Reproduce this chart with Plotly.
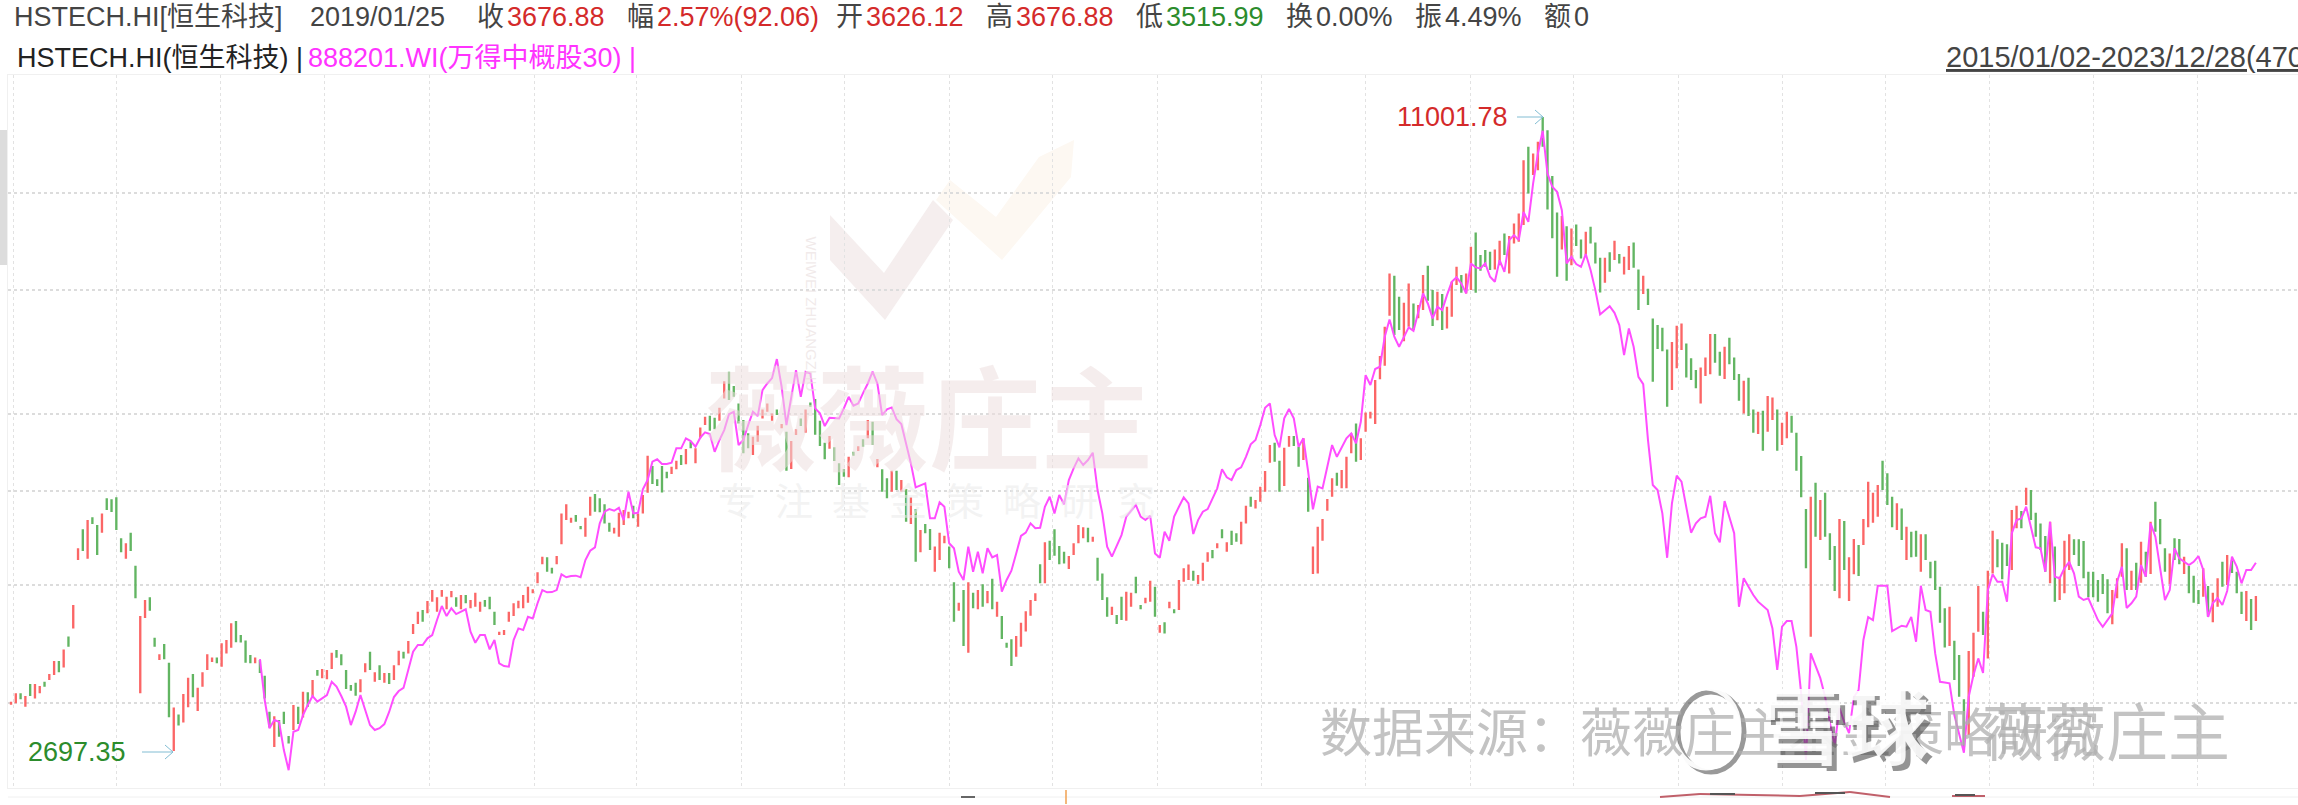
import pandas as pd
import plotly.graph_objects as go

# weekly bars, 2015/01/02 - 2023/12/28, 470 of them
dates = pd.date_range("2015-01-02", periods=470, freq="7D")

bar_up = [
    1,1,0,1,0,1,1,0,1,1, 0,1,0,1,1,0,1,0,0,1, 0,0,0,0,1,0,0,1,1,0, 0,1,0,0,1,0,1,1,0,1,
    1,1,1,0,1,1,1,0,0,0, 0,1,0,0,0,1,0,0,0,1, 0,1,0,1,0,1,1,1,0,0, 0,0,0,1,1,0,1,0,1,0,
    1,1,0,1,1,1,0,1,1,1, 1,1,1,0,1,0,1,1,1,0, 0,0,1,1,1,1,1,1,1,1, 1,1,0,0,1,1,1,1,0,0,
    1,1,0,0,0,0,1,1,1,1, 0,1,1,1,0,0,0,0,1,1, 0,1,0,1,1,1,0,0,1,1, 0,0,0,0,0,1,1,1,1,1,
    0,1,0,1,1,0,1,0,0,0, 0,1,0,0,0,1,0,1,0,1, 0,1,0,0,1,0,1,0,1,0, 1,0,0,1,1,1,0,0,1,0,
    1,0,1,0,1,0,1,0,0,0, 1,1,1,1,1,0,1,0,0,0, 0,1,1,1,1,0,1,0,0,0, 1,0,0,1,1,0,0,1,1,0,
    1,0,1,0,1,1,1,0,1,1, 1,0,1,0,1,0,0,1,1,0, 1,1,1,1,0,0,1,1,0,0, 1,0,1,1,1,1,1,0,1,1,
    1,0,1,1,1,1,1,1,1,0, 0,1,1,0,1,1,0,0,1,0, 1,1,1,0,1,1,0,0,0,0, 1,1,0,1,1,1,1,0,1,1,
    0,0,0,0,1,0,1,0,0,1, 0,0,0,1,0,1,0,1,1,0, 0,1,0,0,0,0,0,1,1,1, 0,0,0,1,1,1,0,0,1,0,
    0,0,1,0,0,1,0,1,1,0, 1,1,0,0,0,0,1,0,1,0, 0,0,1,0,1,1,0,1,1,1, 1,0,0,0,1,0,1,0,0,1,
    0,0,0,0,0,1,0,0,0,1, 1,1,0,1,1,0,0,0,1,1, 0,1,0,0,0,0,1,0,1,1, 1,0,0,0,0,0,0,0,0,1,
    1,1,0,1,0,1,0,1,0,0, 0,1,0,0,1,0,0,0,1,0, 1,1,0,1,0,0,0,1,0,1,
]

bar_high = [
    3009,3065,3065,3047,3129,3129,3115,3145,3199,3293, 3293,3379,3476,3728,4228,4410,4501,4528,4452,4567,
    4724,4713,4734,4322,4275,4377,4067,3638,3770,3793, 3468,3342,3420,3280,2971,2925,3061,3173,3199,3104,
    3212,3342,3319,3319,3425,3450,3580,3598,3488,3447, 3337,3319,3300,3187,2943,2914,2889,2943,2789,2987,
    2976,3076,3072,3157,3228,3235,3228,3354,3374,3342, 3228,3122,3138,3163,3276,3362,3212,3263,3207,3207,
    3263,3369,3361,3442,3574,3673,3687,3762,3854,3792, 3854,3798,3846,3792,3812,3812,3770,3831,3756,3770,
    3798,3673,3514,3527,3673,3743,3764,3812,3882,3860, 4009,4150,4144,4050,4156,4568,4661,4524,4552,4442,
    4524,4740,4769,4724,4661,4474,4425,4574,4602,4585, 4647,4568,4758,5191,5074,4927,5074,5010,5066,5134,
    5200,5269,5355,5277,5528,5660,5672,5647,5773,6125, 6254,6058,5830,5618,5455,5415,5548,5753,5830,5702,
    5753,5569,5475,5363,5504,5639,5753,5843,5886,5609, 5343,5423,5289,5104,5040,5179,5237,5300,5383,5618,
    5597,5153,5037,4938,5021,5021,4919,4822,4734,4612, 4403,4462,4413,4244,4377,4348,4244,3921,3748,3854,
    3921,3831,3854,3903,3846,3952,3756,3638,3429,3455, 3480,3585,3676.88,3770,3826,4082,4284,4299,4410,4250,
    4196,4156,4275,4452,4429,4425,4338,4140,3999,3792, 3714,3646,3798,3840,3831,3970,3728,3789,3935,3882,
    3566,3588,3756,3693,3941,4044,4079,4023,3985,4094, 4190,4212,4275,4410,4284,4396,4371,4484,4647,4740,
    4706,4847,5018,5316,5343,5134,5284,5423,5423,5296, 5395,4944,4244,4435,4511,4716,4938,4999,5029,5179,
    5455,5577,5395,5715,5723,6139,6475,6909,7778,7737, 7384,7286,7606,7276,7250,7749,7910,7495,7466,7429,
    7223,7634,7892,7749,7778,8250,8518,8100,8190,8159, 8203,8360,8499,8448,8689,8884,9998,10298,10148,10412,
    11001.78,10686,9650,8900,8831,8636,8593,8670,8386,8529, 8623,8330,8051,8051,8149,8360,8118,8069,8263,8330,
    7847,7737,7517,7039,6935,6894,6571,6682,6924,6961, 6658,6442,6277,6314,6456,6798,6798,6536,6610,6742,
    6456,6222,6130,6170,5753,5723,5735,5926,5908,5753, 5584,5723,5672,5463,5188,4612,4740,4890,4706,4782,
    4371,4250,4511,4491,4144,4316,4259,4511,4900,4782, 4865,5134,4993,4740,4671,4619,4435,4386,4396,4361,
    4361,4103,4112,3882,3701,3714,3445,3337,3025,3367, 3506,3888,3673,4023,4396,4313,4280,4265,4602,4647,
    4592,4836,4811,4574,4468,4345,4484,4244,3970,4299, 4361,4313,4313,4296,4014,4014,3941,3994,3947,3854,
    3956,4275,4228,4023,4094,4290,4196,4484,4688,4511, 4228,4180,4322,4316,4150,4065,3979,3854,4044,3888,
    3831,3956,4103,4165,4119,4014,3840,3846,3778,3804,
]

bar_low = [
    2989,2998,3025,2976,3047,3031,3065,3111,3157,3192, 3212,3246,3398,3540,4119,4202,4131,4463,4165,4376,
    4602,4582,4403,4190,4131,4202,3784,3065,3622,3681, 3398,3300,3305,2907,2697.35,2855,2873,2972,3038,2947,
    3111,3228,3286,3276,3252,3349,3391,3433,3430,3280, 3276,3276,3207,3031,2842,2722,2784,2863,2743,2826,
    2863,2905,2976,3042,3187,3170,3163,3235,3316,3263, 3095,3083,3049,3072,3212,3228,3145,3157,3138,3129,
    3157,3263,3312,3349,3496,3574,3592,3660,3756,3673, 3798,3693,3792,3714,3693,3743,3701,3714,3673,3714,
    3693,3566,3488,3488,3592,3638,3701,3701,3748,3826, 3912,4082,4014,3999,4082,4267,4501,4474,4484,4410,
    4338,4544,4585,4579,4468,4386,4370,4338,4452,4518, 4518,4435,4568,4782,4876,4854,4786,4938,4985,5037,
    5085,5093,5277,5105,5395,5556,5486,5504,5609,5895, 5873,5916,5577,5219,5277,5200,5355,5639,5723,5609,
    5681,5516,5021,5040,5435,5544,5463,5787,5439,5304, 5150,5272,5131,4865,4955,4949,5192,5245,5296,5395,
    5316,5059,4793,4724,4793,4811,4793,4484,4462,4103, 4190,4371,4212,4014,4119,4275,4044,3592,3681,3404,
    3354,3701,3693,3714,3743,3693,3632,3458,3391,3256, 3324,3398,3515.99,3640,3762,3912,3912,4119,4158,4082,
    4088,4038,4165,4275,4322,4284,4290,3935,3770,3632, 3646,3574,3606,3600,3714,3826,3693,3743,3756,3632,
    3506,3501,3701,3660,3687,3926,3941,3935,3906,3935, 4103,4135,4228,4322,4196,4259,4290,4267,4468,4636,
    4619,4688,4793,5111,5123,4793,4854,5296,5304,5066, 5142,4585,3994,3999,4299,4595,4740,4857,4829,4829,
    5219,5123,5142,5475,5639,5569,6149,6336,7080,6783, 6859,6693,6909,6859,7043,7170,7318,6920,7012,6859,
    6885,7064,7579,7450,7440,7495,7450,7823,7893,7835, 7847,7920,8100,7778,8312,8341,8657,9287,9672,9779,
    10298,8963,8410,7722,8203,7651,7920,8267,8040,8100, 8312,7952,7456,7616,7805,8010,7952,7760,7835,7875,
    7170,7429,7250,6116,6576,6546,5786,6005,6301,6561, 6176,6139,6028,5830,6194,6218,6380,6198,6153,6357,
    6139,5864,5702,5668,5463,5447,5249,5475,5618,5249, 5316,5395,5463,5021,4734,4044,3475,4338,4306,4338,
    4119,3846,3784,4029,3762,3991,3976,4259,4429,4474, 4535,4811,4654,4429,4403,4306,4119,4144,4150,4014,
    4119,3956,3854,3585,3394,3404,3157,3042,2720,2795, 3180,3514,3488,3312,3999,4053,3947,4065,4029,4420,
    4420,4654,4501,4338,4212,4014,3912,3756,3770,3826, 4029,4165,4065,3956,3792,3792,3756,3820,3660,3572,
    3784,3970,3854,3854,3854,3917,3970,3994,4386,4267, 4014,3906,4119,4082,3994,3826,3748,3737,3798,3632,
    3588,3714,3882,3897,4002,3826,3654,3598,3527,3598,
]

# 888201.WI, drawn from bar 52 on
line_start = 52
line_vals = [
    3307,3020,2837,2889,2878,2703,2585,2815,2826,2921,2987,3047,3009,3031,3054,3145,3111,3047,2976,2857,
    2943,3054,2954,2857,2826,2837,2863,2941,3040,3081,3102,3228,3361,3412,3412,3463,3488,3606,3720,3638,
    3701,3654,3671,3693,3514,3429,3488,3488,3379,3450,3276,3256,3252,3450,3540,3527,3632,3619,3743,3854,
    3835,3837,3854,3991,3965,3976,3979,3965,4119,4205,4237,4468,4585,4612,4595,4625,4501,4793,4568,4574,
    4819,4919,5123,5150,5097,5097,5111,5277,5277,5395,5363,5296,5403,5467,5447,5237,5375,5495,5693,5723,
    5316,5375,5556,5723,5668,6005,6093,6167,6432,6049,5556,5916,6277,5916,6254,6231,5766,5702,5544,5647,
    5647,5639,5766,5916,5800,5830,5965,6093,6254,6093,5681,5753,5778,5630,5569,5328,5104,4840,4865,4883,
    4518,4518,4682,4636,4275,4228,4014,3941,4244,4014,4196,3999,4228,4144,4165,3840,3941,4023,4180,4345,
    4377,4468,4420,4425,4636,4740,4568,4758,4661,4919,5048,5161,5085,5142,5226,4811,4568,4244,4150,4259,
    4354,4535,4592,4654,4535,4501,4544,4180,4140,4386,4299,4535,4636,4734,4671,4364,4501,4585,4612,4724,
    4829,5037,4949,4919,5029,5059,5179,5324,5375,5556,5773,5830,5435,5289,5639,5757,5639,5296,5395,5010,
    4609,4847,4829,5066,5316,5179,5296,5395,5455,5336,5597,6208,6072,6291,6324,6758,7023,6758,6610,6758,
    6900,6848,7118,7440,7276,7039,7223,7170,7412,7634,7710,7606,7440,7952,7882,7864,7952,7720,7634,8010,
    7805,8373,8467,8373,8915,8720,9495,10148,10670,9708,9424,9320,8949,7952,8069,7940,7893,8118,7835,7495,
    7101,7170,7233,7127,6935,6489,6885,6610,6184,6085,5375,4865,4811,4568,4140,4671,4966,4902,4619,4377,
    4468,4518,4535,4750,4371,4284,4695,4518,4371,3714,3956,3882,3812,3756,3720,3687,3540,3228,3553,3598,
    3598,3398,3065,2644,3349,3263,3170,3042,2870,2733,2967,2876,2807,3040,3088,3450,3630,3606,3891,3891,
    3891,3519,3540,3561,3553,3632,3437,3891,3687,3673,3349,3145,3140,3134,2921,2805,2687,3042,3192,3312,
    3207,3854,3991,3926,3926,3756,4371,4501,4518,4636,4435,4237,4228,4014,4484,3970,3956,4044,4103,3999,
    3798,3770,3784,3687,3606,3553,3606,3660,3926,4059,3704,3743,3798,4074,3970,4468,4338,4059,3770,3854,
    4228,4135,4101,4074,4103,4156,4029,3632,3745,3787,3728,3846,4150,4059,3912,4029,4029,4094,
]

price_ticks = [3000, 3900, 4800, 5700, 7500, 9300]

W, H = 2298, 805
M_L, M_T, M_B = 8, 75, 17
PW, PH = W - M_L, H - M_T - M_B

def px(x):
    return (x - M_L) / PW

def py(y):
    return (H - M_B - y) / PH

def poly(pts):
    return "M " + " L ".join(f"{px(a):.5f},{py(b):.5f}" for a, b in pts) + " Z"

RED = "#fb6666"
GREEN = "#62b562"
TXT = "#444444"
HEAD_RED = "#d42a2a"
HEAD_GREEN = "#2c8c2c"
ARROW = "#82bdd3"
FONT = "Liberation Sans, Noto Sans CJK SC"

bar_open = [l if u else h for h, l, u in zip(bar_high, bar_low, bar_up)]
bar_close = [h if u else l for h, l, u in zip(bar_high, bar_low, bar_up)]

fig = go.Figure()
fig.add_trace(go.Candlestick(
    x=dates, open=bar_open, high=bar_high, low=bar_low, close=bar_close,
    increasing=dict(line=dict(color=RED, width=0), fillcolor=RED),
    decreasing=dict(line=dict(color=GREEN, width=0), fillcolor=GREEN),
    showlegend=False,
))
fig.add_trace(go.Scatter(
    x=dates[line_start:], y=line_vals, mode="lines",
    line=dict(color="#ff4dff", width=2), showlegend=False,
))

annos = []

def label(x, y, text, color=TXT, size=27, anchor="left", **kw):
    annos.append(dict(xref="paper", yref="paper", x=px(x), y=py(y), text=text, showarrow=False,
                      xanchor=anchor, yanchor="middle", align="left",
                      font=dict(family=FONT, size=size, color=color), **kw))

# header line
for x, text, color in [
    (12, "HSTECH.HI[恒生科技]", TXT), (308, "2019/01/25", TXT),
    (475, "收", TXT), (505, "3676.88", HEAD_RED),
    (625, "幅", TXT), (655, "2.57%(92.06)", HEAD_RED),
    (834, "开", TXT), (864, "3626.12", HEAD_RED),
    (984, "高", TXT), (1014, "3676.88", HEAD_RED),
    (1134, "低", TXT), (1164, "3515.99", HEAD_GREEN),
    (1284, "换", TXT), (1314, "0.00%", TXT),
    (1413, "振", TXT), (1443, "4.49%", TXT),
    (1542, "额", TXT), (1572, "0", TXT),
]:
    label(x, 17, text, color)

label(15, 58, "HSTECH.HI(恒生科技) |", "#222222")
label(306, 58, "888201.WI(万得中概股30) |", "#ff33ff")
label(1944, 57, "<u>2015/01/02-2023/12/28(470)</u>", TXT, size=29)

# max / min markers
label(1510, 117, "11001.78", HEAD_RED, anchor="right")
label(128, 752, "2697.35", HEAD_GREEN, anchor="right")

# watermarks
label(703, 423, "<b>薇薇庄主</b>", "rgba(236,222,222,0.55)", size=112)
label(716, 502, "专\u2002注\u2002基\u2002金\u2002策\u2002略\u2002研\u2002究", "rgba(235,235,235,0.6)", size=38)
annos.append(dict(xref="paper", yref="paper", x=px(811), y=py(235), text="WEIWEI ZHUANGZHU", showarrow=False,
                  textangle=90, font=dict(family=FONT, size=15, color="rgba(235,225,225,0.7)")))
label(1318, 734, "数据来源：薇薇庄主基金策略研究", "rgba(175,175,175,0.75)", size=52)
label(1980, 734, "薇薇庄主", "rgba(175,175,175,0.75)", size=62)
label(1764, 734, "<b>雪球</b>", "rgba(60,60,60,0.55)", size=84)
label(1759, 729, "<b>雪球</b>", "rgba(255,255,255,0.9)", size=84)

def pline(x0, y0, x1, y1, color, width=1):
    return dict(type="line", xref="paper", yref="paper", x0=px(x0), x1=px(x1), y0=py(y0), y1=py(y1),
                line=dict(color=color, width=width))

def arrow(x0, x1, y):
    return [pline(x0, y, x1, y, ARROW), pline(x1 - 8, y - 7, x1, y, ARROW), pline(x1 - 8, y + 7, x1, y, ARROW)]

shapes = [
    dict(type="path", path=poly([(830, 215), (884, 273), (933, 200), (953, 220), (885, 320), (830, 260)]),
         xref="paper", yref="paper", fillcolor="#f5eeee", line_width=0, layer="below"),
    dict(type="path", path=poly([(936, 200), (950, 180), (996, 217), (1039, 157), (1074, 140), (1071, 177), (1002, 260)]),
         xref="paper", yref="paper", fillcolor="#fdf8f2", line_width=0, layer="below"),
    # scrollbar stub on the left
    dict(type="rect", xref="paper", yref="paper", x0=px(0), x1=px(7), y0=py(265), y1=py(130),
         fillcolor="#dcdcdc", line_width=0),
    # logo ring of the overlay stamp
    dict(type="circle", xref="paper", yref="paper", x0=px(1678), x1=px(1744), y0=py(772), y1=py(692),
         line=dict(color="rgba(70,70,70,0.55)", width=5)),
    dict(type="circle", xref="paper", yref="paper", x0=px(1673), x1=px(1739), y0=py(768), y1=py(688),
         line=dict(color="rgba(255,255,255,0.95)", width=5)),
    # the next pane peeking in under the chart
    pline(8, 797, 2298, 797, "#f0f0f0"),
    pline(961, 797, 975, 797, "#666666", 2),
    pline(1066, 790, 1066, 804, "#f0a050", 1.5),
    pline(1660, 797, 1700, 794, "#c0606a", 2),
    pline(1700, 794, 1800, 796, "#c0606a", 2),
    pline(1800, 796, 1850, 792, "#c0606a", 2),
    pline(1850, 792, 1890, 797, "#c0606a", 2),
    pline(1952, 796, 1985, 796, "#c0606a", 2),
    pline(1710, 794, 1735, 794, "#555555", 2),
    pline(1815, 793, 1845, 793, "#555555", 2),
    pline(1955, 795, 1975, 795, "#555555", 2),
] + arrow(1517, 1543, 117) + arrow(142, 173, 752)

fig.update_layout(
    width=W, height=H, autosize=False,
    margin=dict(l=M_L, r=0, t=M_T, b=M_B, pad=0),
    paper_bgcolor="white", plot_bgcolor="white",
    showlegend=False, annotations=annos, shapes=shapes,
    xaxis=dict(type="date", range=["2014-12-28 14:00", "2024-02-28 14:00"], rangeslider=dict(visible=False),
               tick0="2015-06-05", dtick="M5", showticklabels=False, ticks="",
               showgrid=True, gridcolor="#e2e2e2", griddash="dot", gridwidth=1,
               showline=True, mirror=True, linecolor="#f0f0f0", zeroline=False),
    yaxis=dict(type="log", range=[3.3953, 4.0819], tickvals=price_ticks, showticklabels=False, ticks="",
               showgrid=True, gridcolor="#dcdcdc", griddash="dot", gridwidth=2,
               showline=True, mirror=True, linecolor="#f0f0f0", zeroline=False),
)

fig.write_html("out.html", config={"displayModeBar": False},
               post_script="document.body.style.margin='0';document.body.style.overflow='hidden';")
